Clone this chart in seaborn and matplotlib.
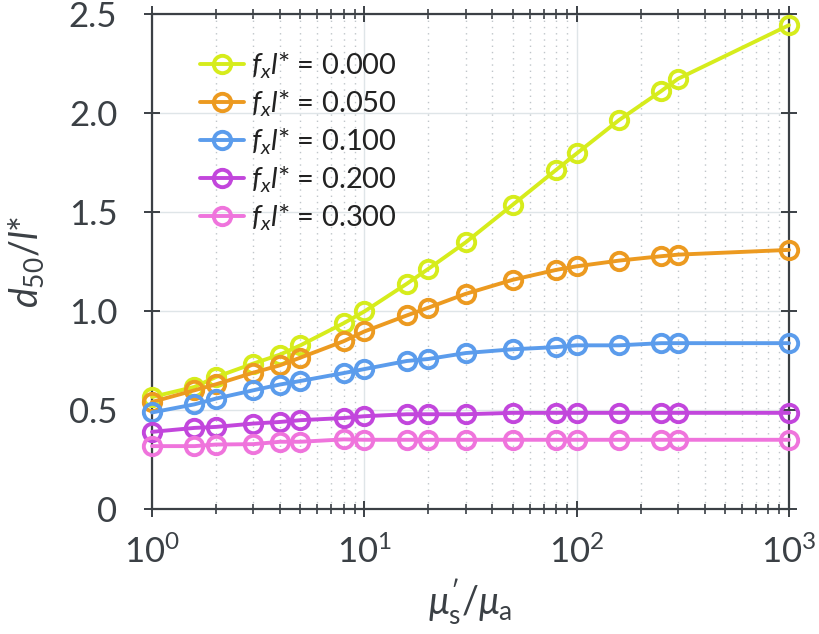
import numpy as np
import pandas as pd
import seaborn as sns
import matplotlib
matplotlib.use("Agg")
import matplotlib.pyplot as plt
from matplotlib.ticker import LogLocator, FixedLocator, NullFormatter

# ---- data ----
mu_ratio = [1, 1.585, 2, 3, 4, 5, 8, 10, 15.85, 20, 30, 50, 80, 100, 158.5, 250, 300, 1000]
fx_levels = ["0.000", "0.050", "0.100", "0.200", "0.300"]
d50_f000 = [0.568, 0.619, 0.669, 0.737, 0.782, 0.829, 0.941, 1.000, 1.140, 1.215,
            1.349, 1.539, 1.715, 1.798, 1.967, 2.113, 2.175, 2.446]
d50_f050 = [0.543, 0.602, 0.632, 0.691, 0.728, 0.767, 0.850, 0.899, 0.980, 1.019,
            1.089, 1.160, 1.210, 1.228, 1.257, 1.279, 1.287, 1.311]
d50_f100 = [0.490, 0.531, 0.560, 0.602, 0.631, 0.649, 0.689, 0.709, 0.750, 0.760,
            0.790, 0.809, 0.820, 0.829, 0.829, 0.840, 0.840, 0.840]
d50_f200 = [0.392, 0.412, 0.417, 0.434, 0.442, 0.451, 0.462, 0.471, 0.481, 0.481,
            0.481, 0.488, 0.488, 0.488, 0.488, 0.488, 0.488, 0.488]
d50_f300 = [0.320, 0.320, 0.328, 0.330, 0.342, 0.342, 0.354, 0.352, 0.352, 0.352,
            0.352, 0.352, 0.352, 0.352, 0.352, 0.352, 0.352, 0.352]
series = [d50_f000, d50_f050, d50_f100, d50_f200, d50_f300]
colors = ["#d6ec1c", "#ec9a20", "#5b9cec", "#c246dc", "#ef74dc"]
y_ticks = [0, 0.5, 1.0, 1.5, 2.0, 2.5]
y_ticklabels = ["0", "0.5", "1.0", "1.5", "2.0", "2.5"]
x_ticks = [1, 10, 100, 1000]
x_ticklabels = [r"$10^0$", r"$10^1$", r"$10^2$", r"$10^3$"]

rows = []
for lvl, vals in zip(fx_levels, series):
    for x, y in zip(mu_ratio, vals):
        rows.append({"mu": x, "d50": y, "fx": lvl})
df = pd.DataFrame(rows)

sns.set_style("white")
FONT = "Lato"
plt.rcParams["font.family"] = [FONT, "DejaVu Sans"]
plt.rcParams["mathtext.fontset"] = "custom"
plt.rcParams["mathtext.rm"] = FONT
plt.rcParams["mathtext.it"] = FONT + ":italic"
plt.rcParams["mathtext.bf"] = FONT + ":bold"

axc = "#3b4045"
fig = plt.figure(figsize=(8.2, 6.34), dpi=100)
ax = fig.add_axes([0.1854, 0.1964, 0.7768, 0.7808])

for lvl, col in zip(fx_levels, colors):
    sub = df[df["fx"] == lvl]
    sns.lineplot(data=sub, x="mu", y="d50", ax=ax, color=col, lw=2.8,
                 marker="o", markersize=12.5, markerfacecolor="none",
                 markeredgecolor=col, markeredgewidth=2.8,
                 label=r"$f_x l{*}$ = " + lvl, zorder=3, clip_on=False)

ax.set_xscale("log")
ax.set_xlim(1, 1000)
ax.set_ylim(0, 2.5)
ax.set_yticks(y_ticks)
ax.set_yticklabels(y_ticklabels)
ax.xaxis.set_major_locator(FixedLocator(x_ticks))
ax.xaxis.set_minor_locator(LogLocator(base=10, subs=np.arange(2, 10)))
ax.xaxis.set_minor_formatter(NullFormatter())
ax.set_xticklabels(x_ticklabels)

ax.grid(which="major", color="#dfe5e8", lw=1.0, ls="-", zorder=0)
ax.grid(which="minor", axis="x", color="#c0c6ca", lw=1.0, ls=(0, (1, 3.5)), zorder=0)
ax.set_axisbelow(True)

for s in ax.spines.values():
    s.set_color(axc)
    s.set_linewidth(1.6)
    s.set_visible(True)

ax.tick_params(which="major", direction="inout", length=12, width=1.4, color=axc,
               top=True, right=True, left=True, bottom=True,
               labelsize=25, labelcolor=axc)
ax.tick_params(which="minor", direction="inout", length=7, width=1.2, color=axc,
               top=True, bottom=True)
ax.tick_params(axis="y", which="major", pad=19)
ax.tick_params(axis="x", which="major", pad=12)

ax.set_xlabel(r"$\mu_{\rm s}^{\prime}/\mu_{\rm a}$", fontsize=27, color=axc, labelpad=6)
ax.set_ylabel(r"$d_{\rm 50}/l{*}$", fontsize=27, color=axc, labelpad=16)

leg = ax.legend(loc="upper left", bbox_to_anchor=(0.075, 0.928), frameon=False,
                fontsize=21, handlelength=1.5, handletextpad=0.25, labelspacing=0.26,
                borderpad=0, borderaxespad=0, labelcolor="#222222")

fig.savefig("out.png", dpi=100)
